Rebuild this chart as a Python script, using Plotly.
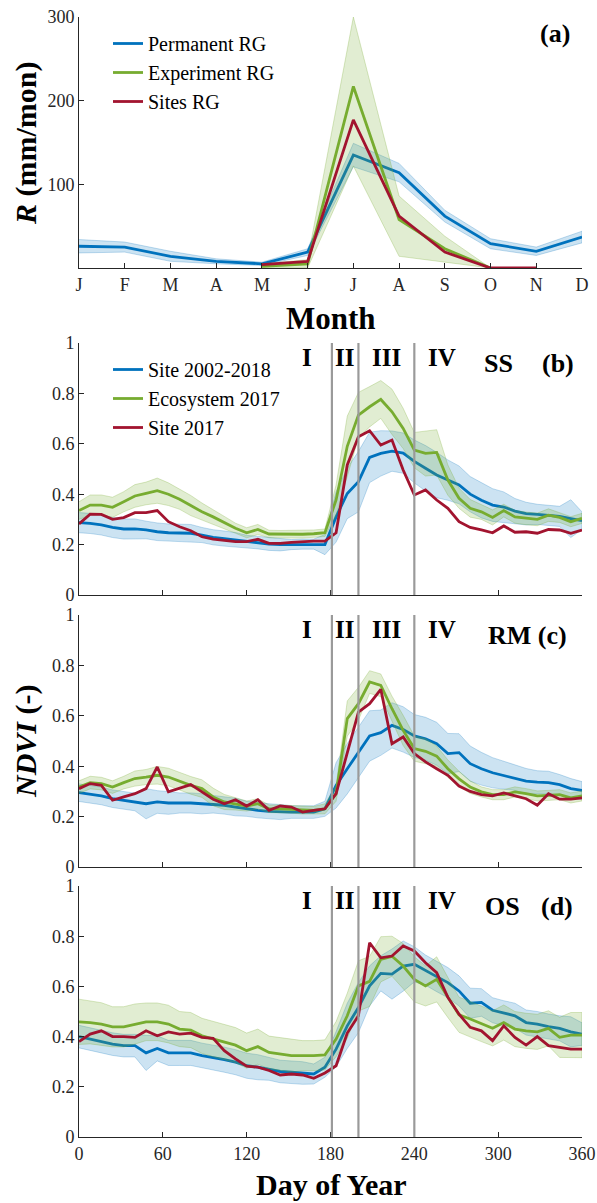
import plotly.graph_objects as go

# ---------------- data ----------------
months = ["J", "F", "M", "A", "M", "J", "J", "A", "S", "O", "N", "D"]
month_idx = [1, 2, 3, 4, 5, 6, 7, 8, 9, 10, 11, 12]
perm_rg = [26, 25, 14, 8, 5, 19, 135, 114, 62, 29, 20, 37]
perm_rg_hw = [8, 6, 6, 3, 2, 4, 14, 11, 7, 6, 5, 7]
exp_months = [5, 6, 7, 8, 9, 10]
exp_rg = [2, 5, 217, 58, 23, 0]
exp_rg_lo = [0, 0, 122, 14, 7, 0]
exp_rg_hi = [5, 10, 300, 86, 38, 0]
site_months = [5, 6, 7, 8, 9, 10, 11]
site_rg = [4, 8, 177, 62, 19, 0, 0]

doy = list(range(0, 361, 8))
doy_ticks = [0, 60, 120, 180, 240, 300, 360]
phase_bounds = [181, 200, 240]

# panel (b) SS
ss_site_clim = [0.287, 0.284, 0.278, 0.268, 0.262, 0.262, 0.258, 0.251, 0.247, 0.247,
                0.245, 0.238, 0.229, 0.224, 0.218, 0.212, 0.208, 0.202, 0.20, 0.20,
                0.202, 0.202, 0.20, 0.31, 0.403, 0.45, 0.546, 0.562, 0.571, 0.563,
                0.53, 0.503, 0.476, 0.456, 0.437, 0.40, 0.376, 0.357, 0.349, 0.333,
                0.323, 0.32, 0.316, 0.312, 0.303, 0.295]
ss_site_clim_hw = [0.04, 0.04, 0.04, 0.04, 0.04, 0.04, 0.035, 0.035, 0.035, 0.035,
                   0.035, 0.03, 0.03, 0.03, 0.03, 0.025, 0.025, 0.025, 0.025, 0.02,
                   0.02, 0.02, 0.04, 0.1, 0.1, 0.12, 0.1, 0.09, 0.08, 0.08,
                   0.085, 0.09, 0.09, 0.08, 0.075, 0.07, 0.07, 0.065, 0.06, 0.05,
                   0.045, 0.04, 0.04, 0.04, 0.075, 0.035]
ss_eco = [0.335, 0.357, 0.357, 0.348, 0.37, 0.393, 0.403, 0.414, 0.40, 0.38,
          0.355, 0.33, 0.31, 0.287, 0.265, 0.247, 0.26, 0.242, 0.241, 0.241,
          0.241, 0.243, 0.247, 0.377, 0.59, 0.714, 0.747, 0.776, 0.727, 0.661,
          0.575, 0.562, 0.566, 0.456, 0.384, 0.344, 0.33, 0.308, 0.335, 0.31,
          0.304, 0.30, 0.317, 0.308, 0.291, 0.304]
ss_eco_hw = [0.035, 0.04, 0.04, 0.04, 0.04, 0.045, 0.045, 0.05, 0.045, 0.04,
             0.04, 0.035, 0.03, 0.025, 0.02, 0.02, 0.02, 0.015, 0.015, 0.015,
             0.015, 0.015, 0.015, 0.06, 0.12, 0.09, 0.08, 0.075, 0.09, 0.08,
             0.07, 0.09, 0.09, 0.06, 0.04, 0.035, 0.03, 0.03, 0.025, 0.025,
             0.025, 0.025, 0.025, 0.02, 0.02, 0.02]
ss_site17 = [0.282, 0.321, 0.32, 0.30, 0.307, 0.327, 0.327, 0.335, 0.291, 0.271,
             0.255, 0.231, 0.222, 0.216, 0.212, 0.212, 0.221, 0.205, 0.205, 0.209,
             0.212, 0.214, 0.214, 0.247, 0.516, 0.628, 0.652, 0.595, 0.615, 0.496,
             0.397, 0.417, 0.377, 0.344, 0.291, 0.268, 0.258, 0.247, 0.274, 0.249,
             0.251, 0.245, 0.26, 0.258, 0.245, 0.258]

# panel (c) RM
rm_site_clim = [0.295, 0.288, 0.282, 0.271, 0.265, 0.258, 0.251, 0.258, 0.254, 0.254,
                0.254, 0.251, 0.249, 0.245, 0.238, 0.231, 0.225, 0.221, 0.218, 0.218,
                0.218, 0.218, 0.231, 0.324, 0.39, 0.456, 0.52, 0.533, 0.562, 0.546,
                0.52, 0.509, 0.489, 0.45, 0.454, 0.41, 0.39, 0.374, 0.364, 0.354,
                0.341, 0.337, 0.335, 0.327, 0.311, 0.304]
rm_site_clim_hw = [0.035, 0.035, 0.035, 0.035, 0.035, 0.035, 0.06, 0.045, 0.045, 0.04,
                   0.04, 0.04, 0.035, 0.035, 0.035, 0.03, 0.03, 0.03, 0.03, 0.025,
                   0.025, 0.025, 0.03, 0.09, 0.1, 0.1, 0.1, 0.09, 0.09, 0.09,
                   0.085, 0.085, 0.085, 0.08, 0.075, 0.07, 0.065, 0.06, 0.055, 0.05,
                   0.05, 0.045, 0.045, 0.04, 0.04, 0.035]
rm_eco = [0.317, 0.335, 0.331, 0.317, 0.335, 0.351, 0.357, 0.364, 0.357, 0.34,
          0.324, 0.311, 0.278, 0.258, 0.251, 0.242, 0.251, 0.231, 0.231, 0.229,
          0.225, 0.225, 0.231, 0.291, 0.589, 0.648, 0.734, 0.721, 0.628, 0.542,
          0.47, 0.459, 0.44, 0.39, 0.35, 0.317, 0.298, 0.287, 0.287, 0.298,
          0.291, 0.282, 0.284, 0.287, 0.274, 0.282]
rm_eco_hw = [0.025, 0.025, 0.025, 0.025, 0.025, 0.03, 0.03, 0.035, 0.035, 0.035,
             0.035, 0.035, 0.035, 0.03, 0.025, 0.02, 0.02, 0.015, 0.015, 0.015,
             0.015, 0.015, 0.02, 0.03, 0.07, 0.065, 0.045, 0.045, 0.05, 0.06,
             0.05, 0.05, 0.04, 0.035, 0.03, 0.025, 0.02, 0.02, 0.02, 0.02,
             0.02, 0.02, 0.02, 0.02, 0.02, 0.02]
rm_site17 = [0.311, 0.331, 0.324, 0.265, 0.278, 0.291, 0.311, 0.397, 0.298, 0.313,
             0.327, 0.298, 0.269, 0.251, 0.267, 0.242, 0.267, 0.225, 0.242, 0.238,
             0.218, 0.225, 0.231, 0.291, 0.456, 0.615, 0.648, 0.705, 0.489, 0.516,
             0.45, 0.417, 0.39, 0.364, 0.321, 0.30, 0.287, 0.282, 0.294, 0.284,
             0.271, 0.245, 0.291, 0.269, 0.269, 0.274]

# panel (d) OS
os_site_clim = [0.40, 0.39, 0.38, 0.37, 0.364, 0.364, 0.335, 0.353, 0.335, 0.335,
                0.335, 0.324, 0.317, 0.308, 0.298, 0.284, 0.278, 0.271, 0.261, 0.258,
                0.255, 0.251, 0.278, 0.35, 0.443, 0.516, 0.602, 0.652, 0.649, 0.681,
                0.688, 0.665, 0.639, 0.615, 0.582, 0.533, 0.536, 0.505, 0.493, 0.483,
                0.456, 0.45, 0.44, 0.433, 0.419, 0.41]
os_site_clim_hw = [0.045, 0.045, 0.045, 0.045, 0.045, 0.045, 0.07, 0.05, 0.05, 0.05,
                   0.05, 0.05, 0.05, 0.05, 0.05, 0.05, 0.05, 0.045, 0.045, 0.045,
                   0.045, 0.04, 0.04, 0.07, 0.09, 0.1, 0.08, 0.07, 0.1, 0.1,
                   0.07, 0.06, 0.06, 0.06, 0.06, 0.06, 0.055, 0.05, 0.05, 0.05,
                   0.05, 0.05, 0.05, 0.05, 0.06, 0.045]
os_eco = [0.459, 0.456, 0.45, 0.439, 0.439, 0.45, 0.459, 0.459, 0.45, 0.43,
          0.426, 0.403, 0.39, 0.377, 0.366, 0.344, 0.36, 0.337, 0.331, 0.324,
          0.324, 0.324, 0.327, 0.39, 0.483, 0.602, 0.62, 0.708, 0.72, 0.681,
          0.628, 0.602, 0.628, 0.556, 0.487, 0.47, 0.45, 0.433, 0.456, 0.43,
          0.423, 0.419, 0.433, 0.397, 0.406, 0.406]
os_eco_hw = [0.09, 0.085, 0.085, 0.08, 0.08, 0.08, 0.075, 0.075, 0.075, 0.07,
             0.07, 0.07, 0.07, 0.07, 0.07, 0.07, 0.07, 0.065, 0.065, 0.065,
             0.06, 0.06, 0.06, 0.07, 0.09, 0.1, 0.1, 0.09, 0.08, 0.09,
             0.09, 0.08, 0.09, 0.08, 0.07, 0.07, 0.07, 0.07, 0.07, 0.07,
             0.07, 0.07, 0.07, 0.08, 0.09, 0.09]
os_site17 = [0.38, 0.41, 0.423, 0.40, 0.40, 0.397, 0.423, 0.403, 0.419, 0.41,
             0.414, 0.397, 0.393, 0.344, 0.311, 0.282, 0.278, 0.265, 0.247, 0.251,
             0.247, 0.234, 0.255, 0.284, 0.414, 0.483, 0.774, 0.714, 0.721, 0.761,
             0.741, 0.694, 0.655, 0.556, 0.489, 0.437, 0.423, 0.384, 0.443, 0.397,
             0.366, 0.40, 0.364, 0.357, 0.35, 0.35]

# ---------------- style ----------------
BLUE = "#0072BD"
GREEN = "#77AC30"
RED = "#A2142F"
BLUE_FILL = "rgba(0,114,189,0.2)"
BLUE_EDGE = "rgba(0,114,189,0.3)"
GREEN_FILL = "rgba(119,172,48,0.22)"
GREEN_EDGE = "rgba(119,172,48,0.35)"
FONT = "Liberation Serif"
AXC = "#262626"
LW = 2.8

W, H = 597, 1203
ML, MR, MT, MB = 79, 15, 17, 66
PW, PH = W - ML - MR, H - MT - MB


def px_x(px):
    return (px - ML) / PW


def px_y(py):
    return 1 - (py - MT) / PH


fig = go.Figure()


def band(x, lo, hi, fill, edge, xa, ya):
    fig.add_trace(go.Scatter(
        x=list(x) + list(x)[::-1], y=list(hi) + list(lo)[::-1],
        fill="toself", fillcolor=fill, line=dict(color=edge, width=0.8),
        mode="lines", hoverinfo="skip", showlegend=False, xaxis=xa, yaxis=ya))


def line(x, y, color, name, xa, ya, legend=None):
    fig.add_trace(go.Scatter(
        x=x, y=y, mode="lines", line=dict(color=color, width=LW), name=name,
        showlegend=legend is not None, legend=legend or "legend",
        xaxis=xa, yaxis=ya))


# panel (a)
band(month_idx, [v - h for v, h in zip(perm_rg, perm_rg_hw)],
     [v + h for v, h in zip(perm_rg, perm_rg_hw)], BLUE_FILL, BLUE_EDGE, "x", "y")
line(month_idx, perm_rg, BLUE, "Permanent RG", "x", "y", "legend")
band(exp_months, exp_rg_lo, exp_rg_hi, GREEN_FILL, GREEN_EDGE, "x", "y")
line(exp_months, exp_rg, GREEN, "Experiment RG", "x", "y", "legend")
line(site_months, site_rg, RED, "Sites RG", "x", "y", "legend")

panels = [
    ("x2", "y2", ss_site_clim, ss_site_clim_hw, ss_eco, ss_eco_hw, ss_site17, "legend2"),
    ("x3", "y3", rm_site_clim, rm_site_clim_hw, rm_eco, rm_eco_hw, rm_site17, None),
    ("x4", "y4", os_site_clim, os_site_clim_hw, os_eco, os_eco_hw, os_site17, None),
]
for xa, ya, clim, climhw, eco, ecohw, s17, lg in panels:
    band(doy, [v - h for v, h in zip(clim, climhw)], [v + h for v, h in zip(clim, climhw)],
         BLUE_FILL, BLUE_EDGE, xa, ya)
    line(doy, clim, BLUE, "Site 2002-2018", xa, ya, lg)
    band(doy, [v - h for v, h in zip(eco, ecohw)], [v + h for v, h in zip(eco, ecohw)],
         GREEN_FILL, GREEN_EDGE, xa, ya)
    line(doy, eco, GREEN, "Ecosystem 2017", xa, ya, lg)
    line(doy, s17, RED, "Site 2017", xa, ya, lg)

# ---------------- axes ----------------
tickfont = dict(family=FONT, size=18, color=AXC)
common = dict(showline=True, linecolor=AXC, linewidth=1, ticks="inside", ticklen=5,
              tickcolor=AXC, tickwidth=1, showgrid=False, zeroline=False,
              tickfont=tickfont, mirror=False, automargin=False,
              ticklabeloverflow="allow")

dom_a = [px_y(268), px_y(17)]
dom_b = [px_y(595), px_y(343)]
dom_c = [px_y(867), px_y(615)]
dom_d = [px_y(1137), px_y(886)]

ndvi_ticks = [0, 0.2, 0.4, 0.6, 0.8, 1]
ndvi_text = ["0", "0.2", "0.4", "0.6", "0.8", "1"]

layout_axes = dict(
    xaxis=dict(common, domain=[0, 1], anchor="y", range=[1, 12], tickvals=month_idx,
               ticktext=months),
    yaxis=dict(common, domain=dom_a, anchor="x", range=[0, 300], tickvals=[100, 200, 300]),
)
for i, dom in zip([2, 3, 4], [dom_b, dom_c, dom_d]):
    layout_axes[f"xaxis{i}"] = dict(common, domain=[0, 1], anchor=f"y{i}", range=[0, 360],
                                    tickvals=doy_ticks, showticklabels=(i == 4))
    layout_axes[f"yaxis{i}"] = dict(common, domain=dom, anchor=f"x{i}", range=[0, 1],
                                    tickvals=ndvi_ticks, ticktext=ndvi_text)

fig.update_layout(**layout_axes)

# vertical phase lines
shapes = []
for i in [2, 3, 4]:
    for b in phase_bounds:
        shapes.append(dict(type="line", xref=f"x{i}", yref=f"y{i} domain", x0=b, x1=b,
                           y0=0, y1=1, line=dict(color="#9a9a9a", width=2.2), layer="above"))

# ---------------- annotations ----------------
ann = []


def add_text(text, x, y, xref, yref, size=25, angle=0):
    ann.append(dict(text=text, x=x, y=y, xref=xref, yref=yref, showarrow=False,
                    xanchor="center", yanchor="middle", textangle=angle,
                    font=dict(family=FONT, size=size, color="black")))


add_text("<b>(a)</b>", 11.41, 280, "x", "y", 26)
add_text("<b>Month</b>", px_x(331), px_y(318), "paper", "paper", 31)
add_text("<b>Day of Year</b>", px_x(331), px_y(1184), "paper", "paper", 30)
add_text("<b><i>R</i> (mm/mon)</b>", px_x(26), px_y(143), "paper", "paper", 30, -90)
add_text("<b><i>NDVI</i> (-)</b>", px_x(26), px_y(741), "paper", "paper", 30, -90)

phase_labels = ["I", "II", "III", "IV"]
phase_pos = [163, 190, 220, 260]
site_labels = [[("SS", 300), ("(b)", 343)], [("RM (c)", 321)], [("OS", 303), ("(d)", 342)]]
for i, labs in zip([2, 3, 4], site_labels):
    for t, xp in zip(phase_labels, phase_pos):
        add_text(f"<b>{t}</b>", xp, 0.944, f"x{i}", f"y{i}", 25)
    for t, xp in labs:
        add_text(f"<b>{t}</b>", xp, 0.92, f"x{i}", f"y{i}", 26)

legend_font = dict(family=FONT, size=20, color="black")
fig.update_layout(
    width=W, height=H,
    margin=dict(l=ML, r=MR, t=MT, b=MB, pad=0, autoexpand=False),
    paper_bgcolor="white", plot_bgcolor="white",
    font=dict(family=FONT, color=AXC),
    shapes=shapes, annotations=ann,
    legend=dict(x=px_x(108), y=px_y(24), xanchor="left", yanchor="top",
                bgcolor="rgba(0,0,0,0)", font=legend_font, traceorder="normal",
                tracegroupgap=0),
    legend2=dict(x=px_x(108), y=px_y(350), xanchor="left", yanchor="top",
                 bgcolor="rgba(0,0,0,0)", font=legend_font, traceorder="normal",
                 tracegroupgap=0),
)

fig.write_html("out.html")
